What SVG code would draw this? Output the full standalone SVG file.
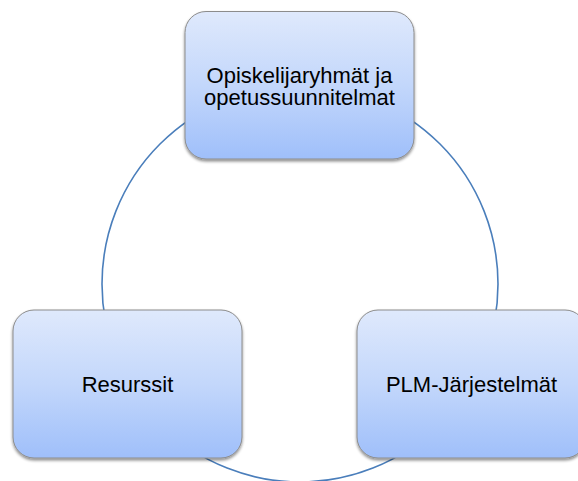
<svg xmlns="http://www.w3.org/2000/svg" width="578" height="481" viewBox="0 0 578 481">
<defs>
<linearGradient id="g" x1="0" y1="0" x2="0" y2="1">
<stop offset="0" stop-color="#dfe9fc"/>
<stop offset="0.5" stop-color="#c3d7fb"/>
<stop offset="1" stop-color="#9fbffa"/>
</linearGradient>
<filter id="sh" x="-10%" y="-10%" width="120%" height="125%">
<feGaussianBlur in="SourceAlpha" stdDeviation="1.5"/>
<feOffset dx="0" dy="2" result="b"/>
<feComponentTransfer><feFuncA type="linear" slope="0.45"/></feComponentTransfer>
<feMerge><feMergeNode/><feMergeNode in="SourceGraphic"/></feMerge>
</filter>
</defs>
<style>
.box{fill:url(#g);stroke:#8c8c8c;stroke-width:1;filter:url(#sh)}
.lbl{font-family:"Liberation Sans",Arial,sans-serif;font-size:22px;fill:#000;text-anchor:middle}
.conn{fill:none;stroke:#4a7ebb;stroke-width:1.6}
</style>
<rect width="578" height="481" fill="#fff"/>
<g id="connectors">
<circle class="conn" cx="300" cy="284" r="198"/>
</g>
<g id="node-top">
<rect class="box" x="185" y="11.5" width="229" height="147.5" rx="21"/>
<text class="lbl" x="299.5" y="83">Opiskelijaryhmät ja</text>
<text class="lbl" x="299.5" y="105">opetussuunnitelmat</text>
</g>
<g id="node-left">
<rect class="box" x="13" y="310" width="229" height="148" rx="21"/>
<text class="lbl" x="127.5" y="392">Resurssit</text>
</g>
<g id="node-right">
<rect class="box" x="357" y="310" width="229" height="148" rx="21"/>
<text class="lbl" x="471.5" y="392">PLM-Järjestelmät</text>
</g>
</svg>
